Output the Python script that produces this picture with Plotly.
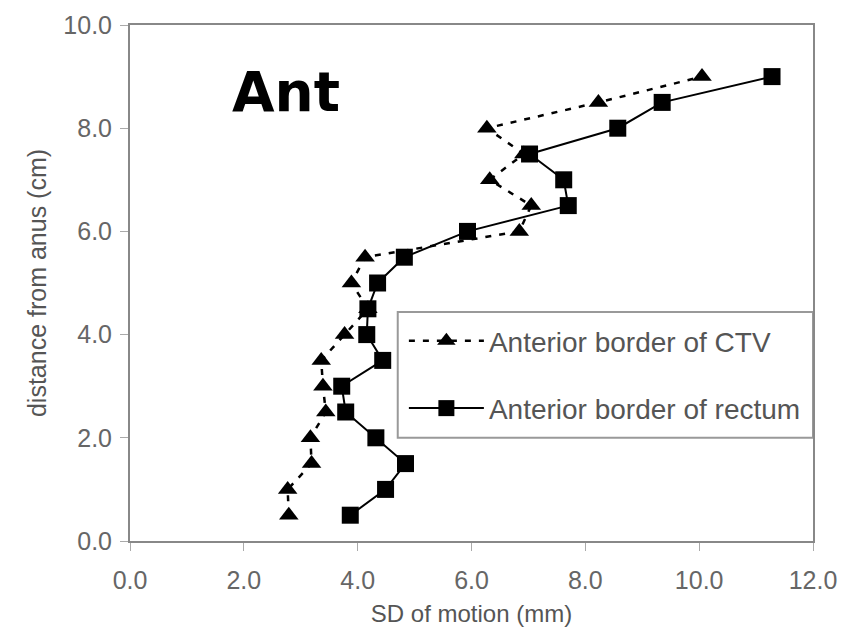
import plotly.graph_objects as go

distance = [0.5, 1.0, 1.5, 2.0, 2.5, 3.0, 3.5, 4.0, 4.5, 5.0, 5.5, 6.0, 6.5, 7.0, 7.5, 8.0, 8.5, 9.0]
ctv_sd = [2.79, 2.77, 3.19, 3.17, 3.44, 3.39, 3.36, 3.77, 4.18, 3.89, 4.13, 6.84, 7.05, 6.32, 6.92, 6.27, 8.23, 10.05]
rectum_sd = [3.87, 4.49, 4.84, 4.32, 3.79, 3.72, 4.44, 4.16, 4.18, 4.35, 4.82, 5.93, 7.70, 7.62, 7.02, 8.57, 9.35, 11.28]

x_ticks = [0, 2, 4, 6, 8, 10, 12]
y_ticks = [0, 2, 4, 6, 8, 10]

font = "Liberation Sans, Arial, sans-serif"
fig = go.Figure()
fig.add_trace(go.Scatter(
    x=ctv_sd, y=distance, mode="lines+markers", name="Anterior border of CTV",
    legendgroup="a",
    line=dict(color="black", width=2.5, dash="6px,8px"),
    marker=dict(symbol="triangle-up", size=17, color="black"),
))
fig.add_trace(go.Scatter(
    x=rectum_sd, y=distance, mode="lines+markers", name="Anterior border of rectum",
    legendgroup="b",
    line=dict(color="black", width=2),
    marker=dict(symbol="square", size=17, color="black"),
))

fig.add_annotation(x=0.146, y=0.87, xref="paper", yref="paper", text="<b>Ant</b>",
                   showarrow=False, xanchor="left", yanchor="middle",
                   font=dict(family="DejaVu Sans, sans-serif", size=55, color="black"))

# legend frame
fig.add_shape(type="rect", xref="paper", yref="paper", x0=0.392, x1=1.0, y0=0.2, y1=0.444,
              line=dict(color="#999", width=2), fillcolor="white", layer="below")

fig.update_layout(
    width=843, height=634,
    margin=dict(l=130, r=30, t=25, b=93),
    plot_bgcolor="white", paper_bgcolor="white",
    font=dict(family=font, color="#666", size=25),
    showlegend=True,
    legend=dict(x=0.401, y=0.436, xanchor="left", yanchor="top",
                borderwidth=0, bgcolor="rgba(0,0,0,0)",
                font=dict(size=28, color="#555", family=font), traceorder="grouped",
                tracegroupgap=28, itemwidth=75),
    xaxis=dict(range=[0, 12], tickvals=x_ticks, ticktext=[f"{v:.1f}" for v in x_ticks],
               showgrid=False, zeroline=False, showline=True, mirror=True,
               linecolor="#888", linewidth=2, automargin=False,
               ticks="outside", tickcolor="#aaa", ticklen=8, tickwidth=1,
               tickfont=dict(size=25, color="#666"), ticklabelstandoff=8,
               title=dict(text="SD of motion (mm)", font=dict(size=24, color="#555"), standoff=12)),
    yaxis=dict(range=[0, 10], tickvals=y_ticks, ticktext=[f"{v:.1f}" for v in y_ticks],
               showgrid=False, zeroline=False, showline=True, mirror=True,
               linecolor="#888", linewidth=2, automargin=False,
               ticks="outside", tickcolor="#aaa", ticklen=8, tickwidth=1,
               tickfont=dict(size=25, color="#666"), ticklabelstandoff=3,
               title=dict(text="distance from anus (cm)", font=dict(size=25, color="#555"), standoff=10)),
)

fig.write_html("out.html")
